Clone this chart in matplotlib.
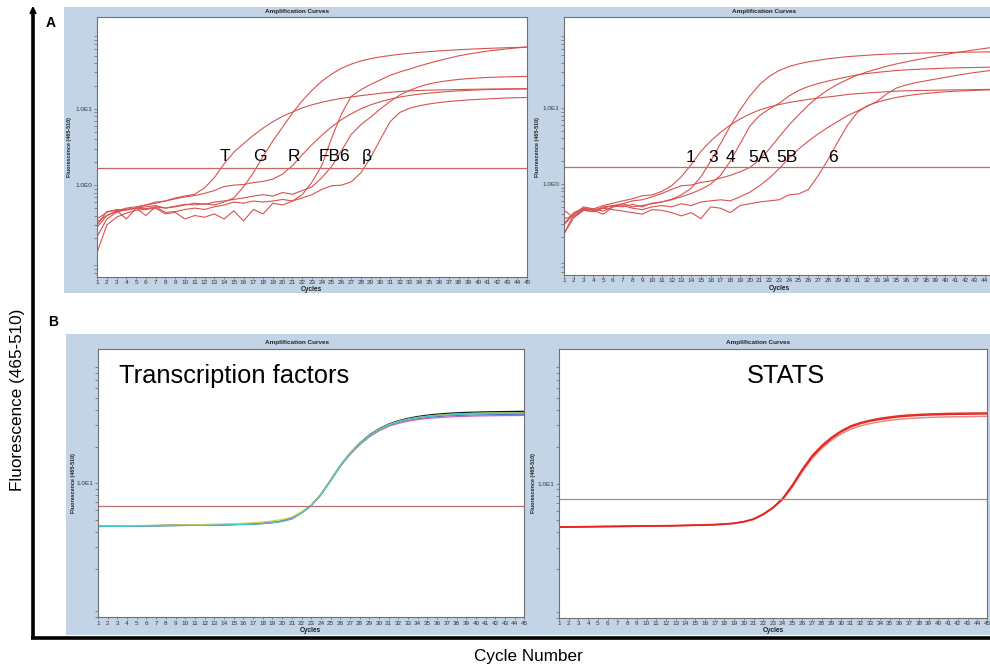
import matplotlib
matplotlib.use("Agg")
import matplotlib.pyplot as plt
from matplotlib.patches import Rectangle, FancyArrowPatch
from matplotlib.lines import Line2D
from matplotlib import ticker, font_manager
import numpy as np

# ---- data (fluorescence per cycle) ----
cycles = list(range(1, 46))

# panel A, left: T, G, R, F, B6, beta
a_left_T = [0.33, 0.40, 0.46, 0.50, 0.52, 0.55, 0.58, 0.62, 0.68, 0.72, 0.76, 0.92, 1.25, 1.9, 2.7, 3.5, 4.5, 5.6, 6.8, 8.0,
            9.1, 10.3, 11.3, 12.2, 13.0, 13.7, 14.3, 14.9, 15.4, 16.0, 16.5, 16.9, 17.2, 17.4, 17.6, 17.7, 17.8, 17.9, 18.0, 18.1,
            18.2, 18.2, 18.3, 18.3, 18.4]
a_left_G = [0.36, 0.44, 0.48, 0.47, 0.50, 0.49, 0.52, 0.50, 0.53, 0.56, 0.55, 0.57, 0.55, 0.60, 0.68, 0.95, 1.45, 2.4, 3.8, 5.8,
            8.8, 12.8, 17.5, 23.0, 28.5, 34.0, 38.5, 42.5, 45.5, 48.0, 50.0, 52.0, 53.5, 55.0, 56.3, 57.5, 58.6, 59.6, 60.5, 61.3,
            62.0, 62.7, 63.3, 63.9, 64.5]
a_left_R = [0.28, 0.40, 0.45, 0.48, 0.50, 0.55, 0.60, 0.62, 0.66, 0.70, 0.73, 0.78, 0.85, 0.96, 1.00, 1.02, 1.08, 1.12, 1.20, 1.40,
            1.80, 2.50, 3.40, 4.50, 5.80, 7.20, 8.60, 10.0, 11.3, 12.4, 13.4, 14.3, 15.0, 15.6, 16.1, 16.5, 16.9, 17.2, 17.5, 17.7,
            17.9, 18.0, 18.1, 18.2, 18.2]
a_left_F = [0.13, 0.30, 0.38, 0.43, 0.47, 0.48, 0.50, 0.42, 0.44, 0.36, 0.40, 0.38, 0.42, 0.36, 0.46, 0.34, 0.48, 0.42, 0.58, 0.55,
            0.62, 0.75, 1.10, 1.80, 4.10, 8.50, 14.5, 17.8, 20.9, 24.0, 27.5, 30.5, 33.3, 36.5, 39.7, 43.0, 46.2, 49.5, 52.3, 54.8,
            57.2, 59.3, 61.2, 63.0, 64.7]
a_left_B6 = [0.21, 0.36, 0.44, 0.48, 0.50, 0.52, 0.54, 0.50, 0.52, 0.55, 0.58, 0.56, 0.60, 0.62, 0.65, 0.68, 0.72, 0.75, 0.72, 0.80,
             0.76, 0.85, 0.95, 1.25, 1.75, 2.8, 4.6, 6.2, 7.8, 10.0, 12.5, 15.2, 17.5, 19.6, 21.3, 22.5, 23.5, 24.3, 24.9, 25.4,
             25.8, 26.1, 26.3, 26.5, 26.6]
a_left_beta = [0.30, 0.45, 0.47, 0.36, 0.50, 0.40, 0.52, 0.44, 0.45, 0.48, 0.50, 0.48, 0.52, 0.55, 0.60, 0.58, 0.62, 0.60, 0.62, 0.65,
               0.62, 0.68, 0.75, 0.88, 0.98, 1.00, 1.10, 1.45, 2.3, 4.0, 6.8, 9.0, 10.2, 11.0, 11.6, 12.1, 12.5, 12.8, 13.1, 13.3,
               13.5, 13.7, 13.9, 14.0, 14.1]
a_left_labels = ["T", "G", "R", "FB6", "β"]

# panel A, right: 1, 3, 4, 5A, 5B, 6
a_right_1 = [0.29, 0.40, 0.46, 0.47, 0.52, 0.56, 0.60, 0.64, 0.70, 0.72, 0.80, 0.95, 1.25, 1.8, 2.7, 3.7, 4.8, 6.0, 7.2, 8.4,
             9.5, 10.4, 11.2, 11.9, 12.5, 13.1, 13.6, 14.1, 14.6, 15.2, 15.6, 15.9, 16.2, 16.5, 16.8, 17.0, 17.1, 17.2, 17.3, 17.4,
             17.5, 17.5, 17.6, 17.7, 17.8]
a_right_3 = [0.22, 0.36, 0.45, 0.44, 0.50, 0.52, 0.55, 0.50, 0.52, 0.55, 0.58, 0.63, 0.72, 0.88, 1.25, 2.0, 3.4, 5.8, 9.5, 14.5,
             20.5, 26.5, 31.5, 35.5, 38.5, 41.0, 43.0, 45.0, 46.5, 48.0, 49.0, 50.0, 51.0, 51.7, 52.3, 52.8, 53.3, 53.7, 54.0, 54.3,
             54.6, 54.9, 55.1, 55.3, 55.5]
a_right_4 = [0.30, 0.42, 0.48, 0.46, 0.48, 0.52, 0.50, 0.54, 0.50, 0.56, 0.58, 0.62, 0.68, 0.75, 0.85, 1.0, 1.3, 2.0, 3.4, 5.8,
             8.0, 9.8, 11.6, 14.5, 17.2, 19.4, 21.2, 22.9, 24.4, 26.0, 27.6, 28.7, 29.7, 30.6, 31.5, 32.1, 32.6, 33.0, 33.4, 33.8,
             34.1, 34.3, 34.5, 34.7, 34.9]
a_right_5A = [0.22, 0.40, 0.50, 0.47, 0.44, 0.50, 0.55, 0.60, 0.62, 0.68, 0.75, 0.85, 0.95, 0.97, 1.05, 1.10, 1.20, 1.30, 1.45, 1.65,
              2.1, 2.9, 4.2, 6.0, 8.2, 11.0, 14.2, 17.5, 20.8, 24.0, 27.3, 30.2, 33.0, 35.8, 38.5, 41.0, 43.5, 46.0, 48.5, 51.0,
              54.0, 56.5, 59.0, 61.5, 64.0]
a_right_5B = [0.45, 0.36, 0.48, 0.45, 0.40, 0.50, 0.52, 0.48, 0.46, 0.50, 0.52, 0.50, 0.55, 0.52, 0.58, 0.60, 0.62, 0.60, 0.68, 0.78,
              0.95, 1.20, 1.60, 2.20, 2.90, 3.70, 4.60, 5.60, 6.70, 8.00, 9.20, 10.6, 12.3, 15.5, 18.5, 20.3, 21.8, 23.0, 24.3, 25.6,
              27.0, 28.3, 29.6, 30.8, 32.0]
a_right_6 = [0.35, 0.38, 0.45, 0.43, 0.48, 0.46, 0.44, 0.42, 0.40, 0.46, 0.45, 0.42, 0.38, 0.42, 0.35, 0.50, 0.48, 0.42, 0.52, 0.55,
             0.58, 0.60, 0.62, 0.72, 0.74, 0.85, 1.30, 2.10, 3.60, 6.00, 8.80, 10.8, 12.0, 13.0, 13.9, 14.6, 15.2, 15.7, 16.1, 16.5,
             16.8, 17.0, 17.2, 17.4, 17.5]
a_right_labels = ["1", "3", "4", "5A", "5B", "6"]

a_threshold = 1.7

# panel B, left: transcription factors
b_left_black = [4.45, 4.46, 4.47, 4.48, 4.49, 4.50, 4.51, 4.52, 4.53, 4.54, 4.55, 4.56, 4.57, 4.58, 4.60, 4.62, 4.65, 4.70, 4.78, 4.90,
                5.15, 5.75, 6.60, 8.10, 10.6, 14.0, 17.6, 21.3, 24.9, 28.0, 30.6, 32.6, 34.1, 35.3, 36.2, 36.9, 37.4, 37.8, 38.1, 38.3,
                38.5, 38.6, 38.7, 38.8, 38.9]
b_left_green = [4.44, 4.45, 4.46, 4.47, 4.48, 4.49, 4.50, 4.51, 4.52, 4.53, 4.54, 4.55, 4.57, 4.59, 4.61, 4.63, 4.66, 4.72, 4.80, 4.93,
                5.18, 5.78, 6.62, 8.12, 10.6, 14.0, 17.5, 21.2, 24.7, 27.8, 30.4, 32.3, 33.7, 34.8, 35.6, 36.2, 36.7, 37.0, 37.3, 37.5,
                37.6, 37.7, 37.8, 37.9, 38.0]
b_left_blue = [4.43, 4.44, 4.45, 4.46, 4.47, 4.48, 4.49, 4.50, 4.51, 4.52, 4.53, 4.54, 4.55, 4.57, 4.59, 4.61, 4.64, 4.69, 4.77, 4.89,
               5.13, 5.72, 6.56, 8.05, 10.5, 13.8, 17.3, 20.9, 24.3, 27.3, 29.7, 31.5, 32.9, 33.9, 34.7, 35.3, 35.7, 36.0, 36.2, 36.4,
               36.5, 36.6, 36.7, 36.8, 36.8]
b_left_magenta = [4.44, 4.45, 4.46, 4.47, 4.48, 4.49, 4.50, 4.51, 4.52, 4.53, 4.54, 4.55, 4.56, 4.58, 4.60, 4.62, 4.65, 4.70, 4.78, 4.90,
                  5.14, 5.74, 6.58, 8.06, 10.5, 13.8, 17.2, 20.7, 24.0, 26.9, 29.3, 31.0, 32.3, 33.3, 34.0, 34.5, 34.9, 35.2, 35.4, 35.6,
                  35.7, 35.8, 35.9, 35.9, 36.0]
b_left_yellow = [4.46, 4.47, 4.48, 4.49, 4.50, 4.51, 4.52, 4.53, 4.54, 4.56, 4.58, 4.60, 4.62, 4.64, 4.67, 4.70, 4.75, 4.82, 4.92, 5.05,
                 5.30, 5.85, 6.65, 8.15, 10.6, 14.0, 17.5, 21.1, 24.6, 27.6, 30.1, 32.0, 33.4, 34.5, 35.3, 35.9, 36.4, 36.7, 37.0, 37.2,
                 37.3, 37.4, 37.5, 37.6, 37.6]
b_left_cyan = [4.42, 4.43, 4.44, 4.45, 4.46, 4.47, 4.48, 4.49, 4.50, 4.51, 4.52, 4.53, 4.54, 4.56, 4.58, 4.60, 4.62, 4.66, 4.74, 4.86,
               5.10, 5.70, 6.55, 8.05, 10.5, 13.9, 17.4, 21.0, 24.5, 27.5, 30.0, 31.9, 33.3, 34.4, 35.2, 35.8, 36.2, 36.5, 36.8, 37.0,
               37.1, 37.2, 37.3, 37.4, 37.4]
b_left_threshold = 6.5

# panel B, right: STATS
b_right_1 = [4.41, 4.42, 4.43, 4.44, 4.45, 4.46, 4.47, 4.48, 4.49, 4.50, 4.51, 4.52, 4.53, 4.55, 4.57, 4.59, 4.62, 4.66, 4.74, 4.88,
             5.12, 5.60, 6.35, 7.50, 9.60, 12.8, 16.5, 20.0, 23.4, 26.5, 29.1, 31.0, 32.4, 33.5, 34.4, 35.2, 35.7, 36.1, 36.4, 36.6,
             36.8, 36.9, 37.0, 37.1, 37.2]
b_right_2 = [4.43, 4.44, 4.45, 4.46, 4.47, 4.48, 4.49, 4.50, 4.51, 4.52, 4.53, 4.54, 4.55, 4.57, 4.59, 4.61, 4.64, 4.68, 4.76, 4.90,
             5.15, 5.65, 6.40, 7.60, 9.80, 13.1, 16.9, 20.5, 23.9, 27.0, 29.7, 31.6, 33.0, 34.2, 35.1, 35.9, 36.4, 36.8, 37.1, 37.3,
             37.5, 37.6, 37.7, 37.8, 37.9]
b_right_3 = [4.40, 4.41, 4.42, 4.43, 4.44, 4.45, 4.46, 4.47, 4.48, 4.49, 4.50, 4.51, 4.52, 4.54, 4.56, 4.58, 4.61, 4.65, 4.72, 4.86,
             5.10, 5.58, 6.30, 7.40, 9.40, 12.5, 16.0, 19.4, 22.6, 25.5, 27.9, 29.7, 31.0, 32.1, 32.9, 33.6, 34.1, 34.5, 34.8, 35.0,
             35.1, 35.2, 35.3, 35.4, 35.5]
b_right_threshold = 7.5

# ---- figure setup ----
W, H = 990, 670
fig = plt.figure(figsize=(W / 100, H / 100), dpi=100)
fig.patch.set_facecolor("white")

names = {f.name for f in font_manager.fontManager.ttflist}
if "Liberation Sans Narrow" in names:
    narrow, narrow_size = "Liberation Sans Narrow", 14.5
else:
    narrow, narrow_size = "Liberation Sans", 12.3
sans = "Liberation Sans"


def box(l, t, r, b):
    # pixel box (from top left) -> figure fraction
    return [l / W, 1 - b / H, (r - l) / W, (b - t) / H]


def fx(x):
    return x / W


def fy(y):
    return 1 - y / H


blue_bg = "#c4d4e7"
fig.add_artist(Rectangle((fx(64), fy(293)), (990 - 64) / W, (293 - 7) / H, transform=fig.transFigure,
                         facecolor=blue_bg, edgecolor="none", zorder=0))
fig.add_artist(Rectangle((fx(66), fy(635)), (990 - 66) / W, (635 - 334) / H, transform=fig.transFigure,
                         facecolor=blue_bg, edgecolor="none", zorder=0))


def style_axes(ax, ylim, major, major_labels, last_label=True):
    ax.set_facecolor("white")
    ax.set_yscale("log")
    ax.set_xlim(1, 45)
    ax.set_ylim(*ylim)
    ax.set_xticks(cycles)
    xl = [str(c) for c in cycles]
    if not last_label:
        # the reference image is cut before the last tick label
        xl[-1] = ""
    ax.set_xticklabels(xl)
    ax.yaxis.set_major_locator(ticker.FixedLocator(major))
    ax.yaxis.set_major_formatter(ticker.FixedFormatter(major_labels))
    ax.yaxis.set_minor_locator(ticker.LogLocator(base=10, subs=np.arange(2, 10)))
    ax.yaxis.set_minor_formatter(ticker.NullFormatter())
    ax.tick_params(axis="both", which="both", length=2, width=0.5, color="#606060",
                   pad=1.2, labelsize=4.6, labelcolor="#333333")
    ax.tick_params(axis="x", length=1.2)
    for lab in ax.get_xticklabels() + ax.get_yticklabels():
        lab.set_family(sans)
    for s in ax.spines.values():
        s.set_color("#707070")
        s.set_linewidth(0.8)


def small_labels(title_xy, cycles_xy, ylab_xy):
    fig.text(fx(title_xy[0]), fy(title_xy[1]), "Amplification Curves", fontsize=4.6, fontweight="bold",
             ha="center", va="center", family=sans, color="#222222")
    fig.text(fx(cycles_xy[0]), fy(cycles_xy[1]), "Cycles", fontsize=4.8, fontweight="bold",
             ha="center", va="center", family=sans, color="#222222")
    fig.text(fx(ylab_xy[0]), fy(ylab_xy[1]), "Fluorescence (465-510)", fontsize=3.9, fontweight="bold",
             ha="center", va="center", rotation=90, family=sans, color="#222222")


red = "#d8524f"

# ---- panel A left ----
ax1 = fig.add_axes(box(97, 17.3, 527, 276.7))
style_axes(ax1, (10 ** -1.2, 10 ** 2.2), [1, 10], ["1.0E0", "1.0E1"])
for series in [a_left_T, a_left_G, a_left_R, a_left_F, a_left_B6, a_left_beta]:
    ax1.plot(cycles, series, color=red, lw=0.8)
ax1.axhline(a_threshold, color="#c86a64", lw=0.9)
for lab, xpos in zip(a_left_labels, [14.1, 17.7, 21.1, 25.3, 28.6]):
    ax1.text(xpos, 2.35, lab, fontsize=12.5, ha="center", va="center", family=sans)
small_labels((297, 11), (311, 289), (69, 147))

# ---- panel A right (cut by the image edge, as in the reference) ----
ax2 = fig.add_axes(box(564, 17.3, 994.3, 275))
style_axes(ax2, (10 ** -1.2, 10 ** 2.2), [1, 10], ["1.0E0", "1.0E1"], last_label=False)
for series in [a_right_1, a_right_3, a_right_4, a_right_5A, a_right_5B, a_right_6]:
    ax2.plot(cycles, series, color=red, lw=0.8)
ax2.axhline(a_threshold, color="#c86a64", lw=0.9)
for lab, xpos in zip(a_right_labels, [13.9, 16.3, 18.0, 20.9, 23.8, 28.5]):
    ax2.text(xpos, 2.26, lab, fontsize=12.5, ha="center", va="center", family=sans)
small_labels((764, 11), (779, 288), (537, 147))

# ---- panel B left ----
b_ylim = (10 ** -0.098, 10 ** 2.098)
ax3 = fig.add_axes(box(98, 349.3, 524.4, 617.3))
style_axes(ax3, b_ylim, [10], ["1.0E1"])
b_left_colors = ["#111111", "#60b060", "#5060e0", "#d060c8", "#e0d040", "#3cc8c8"]
for series, col in zip([b_left_black, b_left_green, b_left_blue, b_left_magenta, b_left_yellow, b_left_cyan],
                       b_left_colors):
    ax3.plot(cycles, series, color=col, lw=0.9)
ax3.axhline(b_left_threshold, color="#b87070", lw=0.9)
ax3.text(0.32, 0.9, "Transcription factors", transform=ax3.transAxes, fontsize=18.4,
         ha="center", va="center", family=sans)
small_labels((297, 342), (310, 630), (73, 483))

# ---- panel B right ----
ax4 = fig.add_axes(box(559, 349.3, 987, 618))
style_axes(ax4, b_ylim, [10], ["1.0E1"])
for series, col in zip([b_right_3, b_right_2, b_right_1], ["#e88888", "#e03a30", "#e8231b"]):
    ax4.plot(cycles, series, color=col, lw=1.1)
ax4.axhline(b_right_threshold, color="#a88c80", lw=0.9)
ax4.text(0.53, 0.9, "STATS", transform=ax4.transAxes, fontsize=18.3,
         ha="center", va="center", family=sans)
small_labels((758, 342), (773, 631), (533, 483))

# ---- outer frame with arrow ----
fig.add_artist(Line2D([fx(33), fx(33)], [fy(638), fy(12)], transform=fig.transFigure,
                      color="black", lw=2.6, solid_capstyle="butt"))
fig.add_artist(Line2D([fx(31.2), fx(990)], [fy(638), fy(638)], transform=fig.transFigure,
                      color="black", lw=2.6, solid_capstyle="butt"))
fig.add_artist(FancyArrowPatch((fx(33), fy(20)), (fx(33), fy(3)), transform=fig.transFigure,
                               arrowstyle="-|>", mutation_scale=9, color="black", lw=1.5))

fig.text(fx(51), fy(23), "A", fontsize=10, fontweight="bold", ha="center", va="center", family=sans)
fig.text(fx(53), fy(322), "B", fontsize=10, fontweight="bold", ha="center", va="center", family=sans)
fig.text(fx(18), fy(400), "Fluorescence (465-510)", fontsize=narrow_size, rotation=90,
         ha="center", va="center", family=narrow)
fig.text(fx(528), fy(656), "Cycle Number", fontsize=narrow_size, ha="center", va="center", family=narrow)

fig.savefig("out.png", dpi=100, facecolor="white")
